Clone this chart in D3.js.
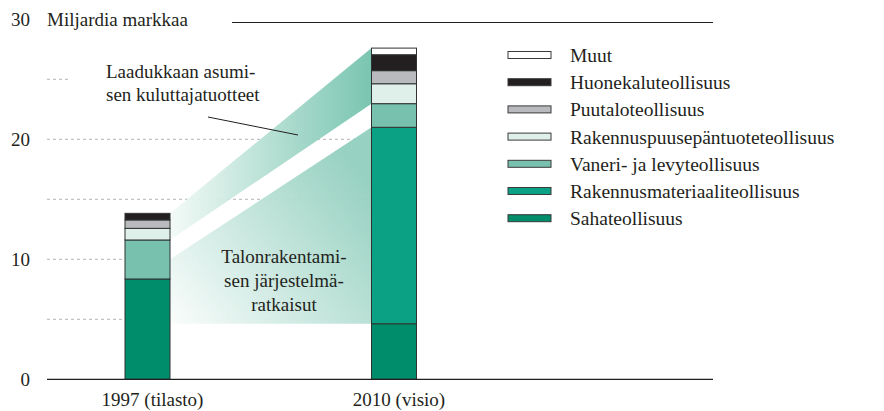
<!DOCTYPE html>
<html>
<head>
<meta charset="utf-8">
<script src="https://cdn.jsdelivr.net/npm/d3@7"></script>
<style>
    body { margin: 0; background: #fff; }
    text { font-family: "Liberation Serif", "DejaVu Serif", serif; fill: #231f20; }
</style>
</head>
<body>
<svg id="chart" width="884" height="411"></svg>
<script>
// values (billion marks)
const years = ["1997 (tilasto)", "2010 (visio)"];
const series = ["Sahateollisuus", "Rakennusmateriaaliteollisuus", "Vaneri- ja levyteollisuus",
    "Rakennuspuusepäntuoteteollisuus", "Puutaloteollisuus", "Huonekaluteollisuus", "Muut"];
const values1997 = [8.36, 0, 3.25, 0.97, 0.70, 0.55, 0];
const values2010 = [4.63, 16.37, 1.97, 1.66, 1.09, 1.33, 0.55];
const colors = ["#008d6b", "#0aa184", "#78c1ae", "#dfefe9", "#b9babe", "#231f20", "#ffffff"];
const yTicks = [0, 10, 20, 30];
const gridValues = [5, 10, 15, 20, 25];
const lowerBandLeftTop = 10; // where the lower band leaves the 1997 bar

const svg = d3.select("#chart");
const x = d3.scalePoint().domain(years).range([147.5, 394]);
const y = d3.scaleLinear().domain([0, 30]).range([379.3, 19.3]);
const barW = 45;

// stack the values
const stacked = years.map((yr, i) => {
    const vals = i === 0 ? values1997 : values2010;
    let acc = 0;
    return vals.map((v, j) => {
        const s = {year: yr, key: series[j], y0: acc, y1: acc + v, color: colors[j]};
        acc += v;
        return s;
    });
});
const total = (i) => stacked[i][stacked[i].length - 1].y1;

const defs = svg.append("defs");
const g1 = defs.append("linearGradient").attr("id", "bandUp")
    .attr("gradientUnits", "userSpaceOnUse")
    .attr("x1", x(years[0]) + barW / 2).attr("y1", 0)
    .attr("x2", x(years[1]) - barW / 2).attr("y2", 0);
g1.append("stop").attr("offset", "0%").attr("stop-color", "#f3faf7");
g1.append("stop").attr("offset", "100%").attr("stop-color", "#72c2ac");

const g2 = defs.append("linearGradient").attr("id", "bandLow")
    .attr("gradientUnits", "userSpaceOnUse")
    .attr("x1", x(years[0]) + barW / 2).attr("y1", y(3))
    .attr("x2", x(years[1]) - barW / 2).attr("y2", y(16));
g2.append("stop").attr("offset", "0%").attr("stop-color", "#ffffff");
g2.append("stop").attr("offset", "100%").attr("stop-color", "#92cfbe");

// gridlines
svg.append("g").selectAll("line")
    .data(gridValues)
    .enter()
    .append("line")
    .attr("x1", 47)
    .attr("x2", (d) => d === 25 ? 70 : x(years[1]) - barW / 2)
    .attr("y1", (d) => y(d))
    .attr("y2", (d) => y(d))
    .style("stroke", "#b4b4b4")
    .style("stroke-width", 1)
    .style("stroke-dasharray", "3,3");

// connecting bands
const xa = x(years[0]) + barW / 2;
const xb = x(years[1]) - barW / 2;
const upper = [
    [xa, y(stacked[0][2].y1)], [xa, y(total(0))],
    [xb, y(total(1))], [xb, y(stacked[1][2].y1)]
];
const lower = [
    [xa, y(stacked[1][0].y1)], [xa, y(lowerBandLeftTop)],
    [xb, y(stacked[1][1].y1)], [xb, y(stacked[1][0].y1)]
];
svg.append("path").attr("d", "M" + upper.join("L") + "Z").style("fill", "url(#bandUp)").style("opacity", 0.95);
svg.append("path").attr("d", "M" + lower.join("L") + "Z").style("fill", "url(#bandLow)").style("opacity", 0.95);

// bars
stacked.forEach((stack) => {
    svg.append("g").selectAll("rect")
        .data(stack.filter((d) => d.y1 > d.y0))
        .enter()
        .append("rect")
        .attr("x", (d) => x(d.year) - barW / 2)
        .attr("width", barW)
        .attr("y", (d) => y(d.y1))
        .attr("height", (d) => y(d.y0) - y(d.y1))
        .style("fill", (d) => d.color)
        .style("stroke", "#2e3330")
        .style("stroke-width", 1);
});

// axes lines
svg.append("line").attr("x1", 47).attr("x2", 713).attr("y1", y(0)).attr("y2", y(0))
    .style("stroke", "#231f20").style("stroke-width", 1.2);
svg.append("line").attr("x1", 232).attr("x2", 713).attr("y1", 22.5).attr("y2", 22.5)
    .style("stroke", "#231f20").style("stroke-width", 1.2);

// y tick labels
svg.append("g").selectAll("text")
    .data(yTicks)
    .enter()
    .append("text")
    .attr("x", 30)
    .attr("y", (d) => y(d) + 7)
    .attr("text-anchor", "end")
    .style("font-size", "19px")
    .text((d) => d);

svg.append("text").attr("x", 47).attr("y", y(30) + 7)
    .style("font-size", "19px").text("Miljardia markkaa");

// x labels
svg.append("g").selectAll("text")
    .data(years)
    .enter()
    .append("text")
    .attr("x", (d) => x(d) + 5)
    .attr("y", 406)
    .attr("text-anchor", "middle")
    .style("font-size", "19px")
    .text((d) => d);

// band labels
const upLines = ["Laadukkaan asumi-", "sen kuluttajatuotteet"];
upLines.forEach((t, i) => {
    svg.append("text").attr("x", 106).attr("y", 78 + i * 23)
        .style("font-size", "19px").text(t);
});
svg.append("line").attr("x1", 208).attr("y1", 117).attr("x2", 298).attr("y2", 135)
    .style("stroke", "#231f20").style("stroke-width", 1);

const lowLines = ["Talonrakentami-", "sen järjestelmä-", "ratkaisut"];
lowLines.forEach((t, i) => {
    svg.append("text").attr("x", 284).attr("y", 263 + i * 24)
        .attr("text-anchor", "middle")
        .style("font-size", "19px").text(t);
});

// legend, top entry first
const legend = svg.append("g").selectAll("g")
    .data(series.map((s, i) => ({key: s, color: colors[i]})).reverse())
    .enter()
    .append("g")
    .attr("transform", (d, i) => `translate(508,${55 + i * 27.2})`);
legend.append("rect")
    .attr("x", 0).attr("y", -3.5).attr("width", 43).attr("height", 7)
    .style("fill", (d) => d.color)
    .style("stroke", "#3a3a3a").style("stroke-width", 1);
legend.append("text")
    .attr("x", 62).attr("y", 7)
    .style("font-size", "19.5px")
    .text((d) => d.key);
</script>
</body>
</html>
